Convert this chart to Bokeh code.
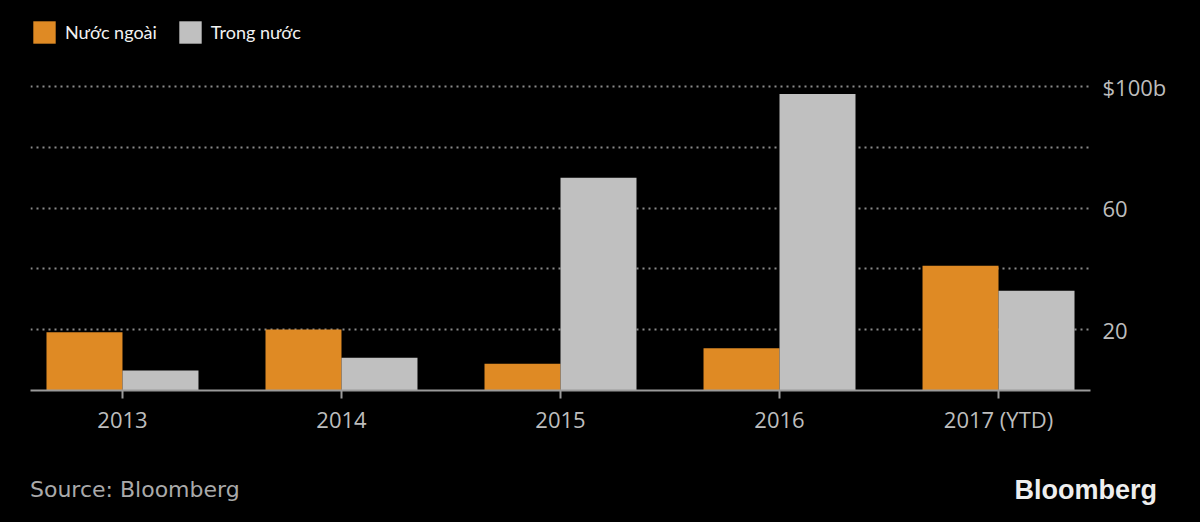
from bokeh.plotting import figure
from bokeh.layouts import column
from bokeh.models import Range1d, FixedTicker, Legend, LegendItem, ColumnDataSource, Div
from bokeh.transform import dodge
from bokeh.embed import file_html
from bokeh.resources import INLINE

categories = ["2013", "2014", "2015", "2016", "2017 (YTD)"]
foreign = [19.2, 20.1, 8.8, 13.9, 41.0]
domestic = [6.6, 10.8, 70.0, 97.5, 32.8]
series_names = ["Nước ngoài", "Trong nước"]
y_ticks = [20, 60, 100]
y_tick_labels = ["20", "60", "$100b"]
grid_ticks = [20, 40, 60, 80, 100]
source_text = "Source: Bloomberg"
brand_text = "Bloomberg"

ORANGE = "#DF8A24"
GREY = "#C0C0C0"
TEXT = "#BDBDBD"

xs = list(range(len(categories)))
src = ColumnDataSource(dict(x=xs, foreign=foreign, domestic=domestic))

p = figure(width=1200, height=458, output_backend="svg", toolbar_location=None,
           x_range=Range1d(-0.42, 4.42), y_range=Range1d(0, 128.3),
           y_axis_location="right",
           background_fill_color="black", border_fill_color="black",
           outline_line_color=None,
           min_border_left=30, min_border_right=110,
           min_border_top=0, min_border_bottom=68)

bw = 0.347
r1 = p.vbar(x=dodge("x", -bw / 2, range=p.x_range), top="foreign", width=bw,
            bottom=0, source=src, fill_color=ORANGE, line_color=None)
r2 = p.vbar(x=dodge("x", bw / 2, range=p.x_range), top="domestic", width=bw,
            bottom=0, source=src, fill_color=GREY, line_color=None)

# grid
p.xgrid.visible = False
p.ygrid.ticker = FixedTicker(ticks=grid_ticks)
p.ygrid.grid_line_color = "#8a8a8a"
p.ygrid.grid_line_dash = "2 4"
p.ygrid.grid_line_width = 2

# x axis
xa = p.xaxis[0]
xa.ticker = FixedTicker(ticks=xs)
xa.major_label_overrides = {i: c for i, c in zip(xs, categories)}
xa.axis_line_color = "#9a9a9a"
xa.axis_line_width = 2
xa.major_tick_line_color = "#9a9a9a"
xa.major_tick_line_width = 2
xa.major_tick_in = 0
xa.major_tick_out = 8
xa.minor_tick_line_color = None
xa.major_label_standoff = 5
xa.major_label_text_color = TEXT
xa.major_label_text_font = "Open Sans"
xa.major_label_text_font_size = "22px"

# y axis
ya = p.yaxis[0]
ya.ticker = FixedTicker(ticks=y_ticks)
ya.major_label_overrides = {t: l for t, l in zip(y_ticks, y_tick_labels)}
ya.axis_line_color = None
ya.major_tick_line_color = None
ya.minor_tick_line_color = None
ya.major_label_standoff = 6
ya.major_label_text_color = TEXT
ya.major_label_text_font = "Open Sans"
ya.major_label_text_font_size = "22px"

legend = Legend(items=[LegendItem(label=series_names[0], renderers=[r1]),
                       LegendItem(label=series_names[1], renderers=[r2])],
                orientation="horizontal", location=(0, 344),
                background_fill_alpha=0, border_line_color=None,
                padding=0, margin=0, spacing=19, label_standoff=7,
                glyph_width=28, glyph_height=28,
                label_text_color="#F2F2F2",
                label_text_font="Lato",
                label_text_font_size="18px")
p.add_layout(legend)

footer = Div(
    text=(
        "<div style=\"display:flex;justify-content:space-between;align-items:center;"
        "width:1200px;height:64px;padding:0 43px 0 30px;box-sizing:border-box;background:#000;\">"
        "<span style=\"font-family:'DejaVu Sans';font-size:22px;color:#AAAAAA;\">"
        + source_text +
        "</span>"
        "<span style=\"font-family:'Liberation Sans';font-weight:bold;font-size:27px;color:#EEEEEE;\">"
        + brand_text +
        "</span></div>"
    ),
    width=1200, height=64,
    styles={"background-color": "black", "margin": "0", "padding": "0"},
)

layout = column(p, footer, spacing=0)
layout.styles = {"background-color": "black"}
open("out.html", "w").write(file_html(layout, INLINE))
